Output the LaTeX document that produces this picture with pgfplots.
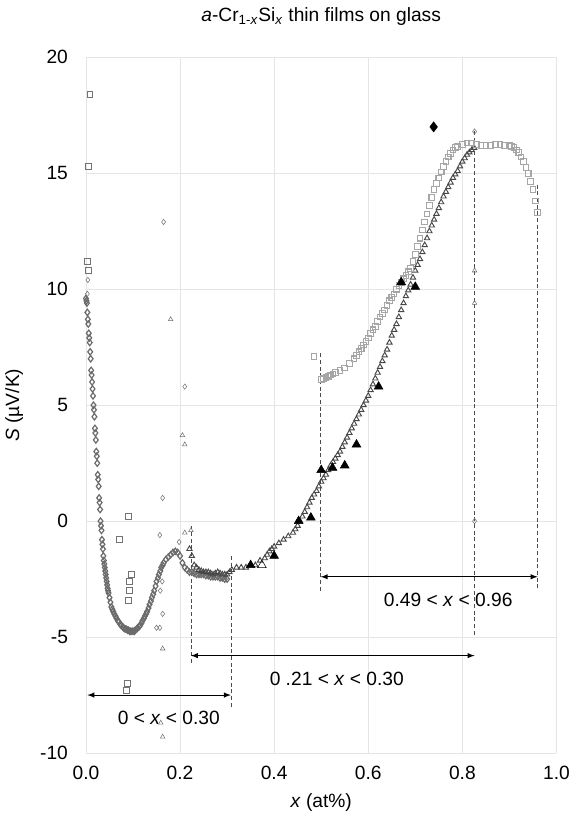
\documentclass[border=0pt]{standalone}
\usepackage{pgfplots}
\pgfplotsset{compat=1.18}
\usepackage{fontspec}
\setmainfont{Liberation Sans}
\begin{document}
\begin{tikzpicture}
\path (-64.5pt,-54pt) rectangle (363.75pt,565pt);
\begin{axis}[scale only axis, width=353pt, height=522pt, at={(0,0)}, anchor=south west,
 xmin=0, xmax=1, ymin=-10, ymax=20,
 xtick={0,0.2,...,1.0}, ytick={-10,-5,...,20},
 xticklabel style={/pgf/number format/fixed,/pgf/number format/fixed zerofill,/pgf/number format/precision=1, yshift=-6pt},
 yticklabel style={xshift=-10pt},
 /pgf/number format/assume math mode=true,
 axis line style={draw=none}, tick style={draw=none},
 grid=major, major grid style={gray!20},
 ticklabel style={font=\Large},
 xlabel={\textit{x} (at\%)}, ylabel={\textit{S} (µV/K)},
 xlabel style={yshift=-4pt}, ylabel style={yshift=6pt},
 label style={font=\Large},
 title={\textit{a}-Cr\textsubscript{1-\textit{x}}Si\textsubscript{\textit{x}} thin films on glass},
 title style={font=\Large, yshift=14pt},
 clip=false]
% dense diamonds
\addplot[only marks, mark=diamond, mark size=2.4pt, line width=0.9pt, color=black!58] coordinates {
(0.000,9.6)(0.001,9.5)(0.002,9.4)(0.003,9.0)(0.004,8.7)(0.005,8.5)(0.006,8.1)(0.007,7.9)(0.008,7.7)(0.009,7.3)(0.010,7.0)(0.011,6.5)(0.012,6.3)(0.013,6.0)(0.014,5.7)(0.015,5.4)(0.016,5.0)(0.017,4.8)(0.018,4.5)(0.019,4.0)(0.020,3.8)(0.021,3.5)(0.022,3.0)(0.023,2.8)(0.024,2.5)(0.025,2.0)(0.026,1.8)(0.027,1.5)(0.028,1.0)(0.029,0.8)(0.030,0.5)(0.031,0.0)(0.032,-0.2)(0.033,-0.4)(0.034,-0.8)(0.035,-1.0)(0.036,-1.2)(0.037,-1.5)(0.038,-1.7)(0.039,-1.85)(0.040,-2.0)(0.041,-2.15)(0.042,-2.3)(0.043,-2.45)(0.044,-2.6)(0.045,-2.75)(0.046,-2.9)(0.047,-3.0)(0.048,-3.1)(0.050,-3.3)(0.052,-3.5)(0.054,-3.7)(0.056,-3.8)(0.058,-3.9)(0.060,-4.0)(0.063,-4.1)(0.065,-4.2)(0.068,-4.3)(0.070,-4.35)(0.073,-4.45)(0.075,-4.5)(0.078,-4.55)(0.080,-4.6)(0.083,-4.65)(0.085,-4.65)(0.088,-4.7)(0.090,-4.7)(0.093,-4.75)(0.095,-4.75)(0.098,-4.75)(0.100,-4.75)(0.103,-4.75)(0.105,-4.7)(0.108,-4.65)(0.110,-4.6)(0.113,-4.55)(0.115,-4.5)(0.118,-4.4)(0.120,-4.3)(0.123,-4.2)(0.125,-4.1)(0.128,-4.0)(0.130,-3.9)(0.133,-3.75)(0.135,-3.6)(0.138,-3.45)(0.140,-3.3)(0.143,-3.15)(0.145,-3.0)(0.148,-2.8)(0.150,-2.6)(0.153,-2.45)(0.155,-2.3)(0.158,-2.15)(0.160,-2.0)(0.163,-1.9)(0.165,-1.8)(0.170,-1.65)(0.175,-1.55)(0.180,-1.45)(0.185,-1.35)(0.190,-1.3)(0.195,-1.35)(0.200,-1.5)(0.205,-1.8)(0.210,-2.0)(0.215,-2.1)(0.220,-2.2)(0.225,-2.2)(0.230,-2.25)(0.235,-2.3)(0.240,-2.3)(0.245,-2.3)(0.250,-2.3)(0.255,-2.35)(0.260,-2.35)(0.265,-2.4)(0.270,-2.4)(0.275,-2.4)(0.280,-2.4)(0.285,-2.45)(0.290,-2.45)(0.295,-2.5)(0.300,-2.5)
};
\addplot[only marks, mark=diamond, mark size=2pt, color=black!55] coordinates {
(0.163,1.0)(0.157,-0.6)(0.198,-0.9)(0.160,-2.0)(0.162,-2.6)(0.158,-3.0)(0.163,-4.0)(0.150,-4.6)(0.157,-4.6)(0.165,12.9)(0.21,5.8)(0.826,16.8)(0.826,0.0)(0.003,9.8)(0.004,10.4)
};
% dark open triangles
\addplot[only marks, mark=triangle, mark size=2.3pt, line width=0.7pt, color=black!72] coordinates {
(0.220,-1.2)(0.225,-1.5)(0.230,-1.9)(0.235,-2.0)(0.240,-2.1)(0.245,-2.15)(0.250,-2.2)(0.255,-2.2)(0.260,-2.2)(0.265,-2.25)(0.270,-2.3)(0.275,-2.25)(0.280,-2.2)(0.285,-2.25)(0.290,-2.3)(0.295,-2.3)(0.300,-2.3)(0.305,-2.2)(0.310,-2.1)(0.320,-2.0)(0.330,-2.0)(0.340,-2.0)(0.350,-1.9)(0.360,-1.9)(0.370,-1.7)(0.380,-1.6)(0.385,-1.45)(0.390,-1.3)(0.395,-1.2)(0.400,-1.1)(0.410,-0.95)(0.420,-0.8)(0.430,-0.65)(0.440,-0.5)(0.445,-0.35)(0.450,-0.2)(0.455,0.0)(0.460,0.2)(0.465,0.4)(0.470,0.6)(0.475,0.8)(0.480,1.0)(0.485,1.15)(0.490,1.3)(0.495,1.5)(0.500,1.7)(0.505,1.85)(0.510,2.0)(0.515,2.2)(0.520,2.4)(0.525,2.55)(0.530,2.7)(0.535,2.85)(0.540,3.0)(0.545,3.2)(0.550,3.4)(0.555,3.6)(0.560,3.8)(0.565,4.0)(0.570,4.2)(0.575,4.4)(0.580,4.6)(0.585,4.8)(0.590,5.0)(0.595,5.2)(0.600,5.4)(0.605,5.65)(0.610,5.9)(0.615,6.15)(0.620,6.4)(0.625,6.65)(0.630,6.9)(0.635,7.15)(0.640,7.4)(0.645,7.7)(0.650,8.0)(0.655,8.25)(0.660,8.5)(0.665,8.8)(0.670,9.1)(0.675,9.4)(0.680,9.7)(0.685,9.95)(0.690,10.2)(0.695,10.5)(0.700,10.8)(0.705,11.05)(0.710,11.3)(0.715,11.6)(0.720,11.9)(0.725,12.2)(0.730,12.5)(0.735,12.75)(0.740,13.0)(0.745,13.25)(0.750,13.5)(0.755,13.75)(0.760,14.0)(0.765,14.2)(0.770,14.4)(0.775,14.6)(0.780,14.8)(0.785,14.95)(0.790,15.1)(0.795,15.3)(0.800,15.5)(0.805,15.65)(0.810,15.8)(0.815,15.9)(0.820,16.0)(0.825,16.1)
};
\addplot[only marks, mark=triangle, mark size=2pt, color=black!55] coordinates {
(0.826,9.4)(0.826,10.8)(0.163,-5.5)(0.159,-8.7)(0.163,-9.3)(0.21,-0.5)(0.223,-0.4)(0.18,8.7)(0.205,3.7)(0.21,3.3)
};
% light squares
\addplot[only marks, mark=square, mark size=2.1pt, line width=0.8pt, color=black!35] coordinates {
(0.485,7.1)(0.500,6.1)(0.505,6.15)(0.510,6.2)(0.515,6.25)(0.520,6.3)(0.525,6.35)(0.530,6.4)(0.540,6.5)(0.550,6.6)(0.560,6.8)(0.570,7.0)(0.575,7.15)(0.580,7.3)(0.585,7.45)(0.590,7.6)(0.595,7.75)(0.600,7.9)(0.605,8.1)(0.610,8.25)(0.615,8.4)(0.620,8.6)(0.625,8.8)(0.630,8.95)(0.635,9.1)(0.640,9.3)(0.645,9.5)(0.650,9.65)(0.655,9.8)(0.660,10.0)(0.665,10.15)(0.670,10.3)(0.675,10.45)(0.680,10.6)(0.685,10.75)(0.690,10.9)(0.695,11.2)(0.700,11.5)(0.705,11.85)(0.710,12.2)(0.715,12.55)(0.720,12.9)(0.725,13.25)(0.730,13.6)(0.735,13.95)(0.740,14.3)(0.745,14.55)(0.750,14.8)(0.755,15.05)(0.760,15.3)(0.765,15.5)(0.770,15.7)(0.775,15.85)(0.780,16.0)(0.785,16.1)(0.790,16.15)(0.800,16.25)(0.810,16.3)(0.820,16.3)(0.830,16.25)(0.840,16.2)(0.850,16.2)(0.860,16.2)(0.870,16.25)(0.880,16.25)(0.890,16.2)(0.900,16.2)(0.905,16.15)(0.910,16.1)(0.915,16.0)(0.920,15.9)(0.925,15.7)(0.930,15.5)(0.935,15.25)(0.940,15.0)(0.945,14.65)(0.950,14.3)(0.955,13.8)(0.960,13.3)
};
\addplot[only marks, mark=square, mark size=2.2pt, color=black!55] coordinates {
(0.008,18.4)(0.004,15.3)(0.003,11.2)(0.005,10.8)(0.089,0.2)(0.070,-0.8)(0.096,-2.3)(0.092,-2.6)(0.092,-3.0)(0.090,-3.4)(0.087,-7.0)(0.086,-7.3)
};
% black filled triangles
\addplot[only marks, mark=triangle*, mark size=3.8pt, color=black] coordinates {
(0.35,-1.9)(0.40,-1.5)(0.452,0.0)(0.478,0.15)(0.50,2.2)(0.524,2.3)(0.55,2.4)(0.575,3.3)(0.622,5.8)(0.67,10.3)(0.70,10.1)
};
\addplot[only marks, mark=triangle, mark size=3.8pt, color=black] coordinates {(0.374,-1.9)};
\addplot[only marks, mark=diamond*, mark size=3.8pt, color=black] coordinates {(0.739,17.0)};
% dashed verticals
\draw[densely dashed, black!70] (axis cs:0.308,-8.0) -- (axis cs:0.308,-1.5);
\draw[densely dashed, black!70] (axis cs:0.223,-6.1) -- (axis cs:0.223,-0.2);
\draw[densely dashed, black!70] (axis cs:0.499,-3.0) -- (axis cs:0.499,7.3);
\draw[densely dashed, black!70] (axis cs:0.826,-4.9) -- (axis cs:0.826,16.9);
\draw[densely dashed, black!70] (axis cs:0.96,-2.9) -- (axis cs:0.96,14.6);
% arrows
\draw[<->, >=latex, thick] (axis cs:0.003,-7.5) -- (axis cs:0.308,-7.5);
\draw[<->, >=latex, thick] (axis cs:0.223,-5.8) -- (axis cs:0.826,-5.8);
\draw[<->, >=latex, thick] (axis cs:0.499,-2.4) -- (axis cs:0.96,-2.4);
\node[font=\Large] at (axis cs:0.176,-8.5) {0 < \textit{x} < 0.30};
\node[font=\Large] at (axis cs:0.533,-6.8) {0 .21 < \textit{x} < 0.30};
\node[font=\Large] at (axis cs:0.77,-3.4) {0.49 < \textit{x} < 0.96};
\end{axis}
\end{tikzpicture}
\end{document}
